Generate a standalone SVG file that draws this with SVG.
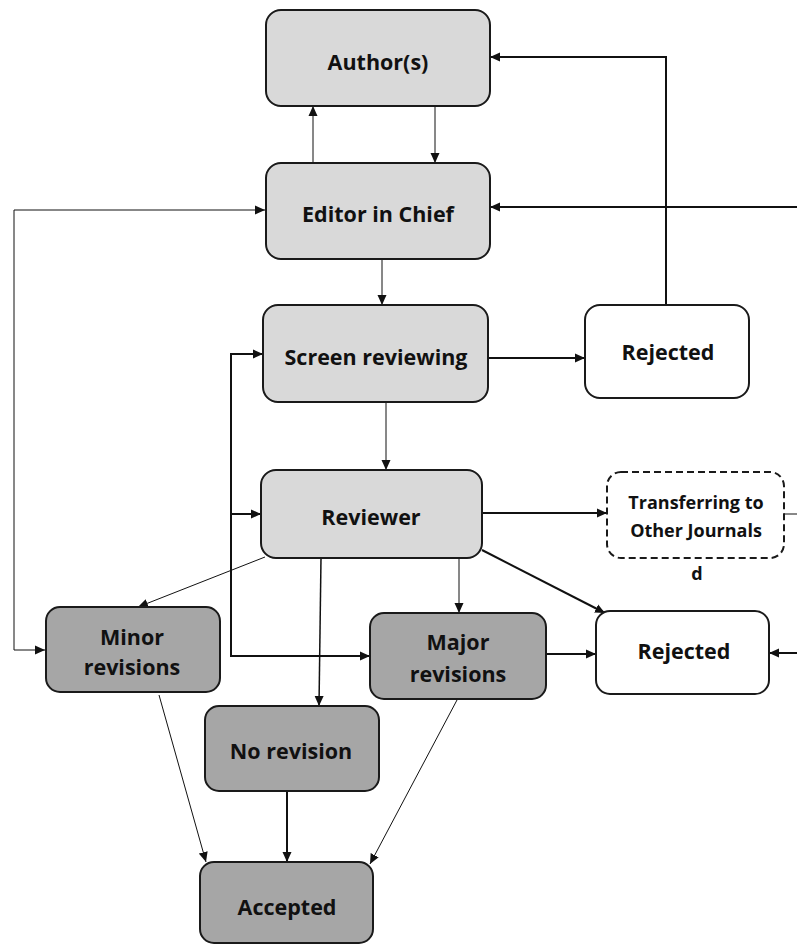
<svg xmlns="http://www.w3.org/2000/svg" width="797" height="945" viewBox="0 0 797 945">
<style>
.box{stroke:#1a1a1a;stroke-width:2}
.lt{fill:#d9d9d9}
.dk{fill:#a6a6a6}
.wh{fill:#ffffff}
.dash{fill:#ffffff;stroke:#1a1a1a;stroke-width:2;stroke-dasharray:7,4}
text{font-family:"Open Sans","Liberation Sans",sans-serif;font-weight:bold;fill:#111;text-anchor:middle}
.t{font-size:21.5px}
.s{font-size:18px}
.c{fill:none;stroke:#111}
.thin{stroke-width:1}
.mid{stroke-width:1.5}
.thick{stroke-width:2}
</style>
<defs>
<marker id="ah" viewBox="0 0 10 10" refX="10" refY="5" markerWidth="10" markerHeight="10" markerUnits="userSpaceOnUse" orient="auto-start-reverse">
<path d="M0,0.5 L10,5 L0,9.5 z" fill="#111"/>
</marker>
</defs>
<g id="connectors">
<path class="c thin" d="M435,106 L435,163" marker-end="url(#ah)"/>
<path class="c thin" d="M313,163 L313,106" marker-end="url(#ah)"/>
<path class="c thick" d="M666,305 L666,57 L490,57" marker-end="url(#ah)"/>
<path class="c thick" d="M797,207 L490,207" marker-end="url(#ah)"/>
<path class="c thin" d="M265,210 L14,210 L14,650 L45,650" marker-start="url(#ah)" marker-end="url(#ah)"/>
<path class="c thin" d="M382,259 L382,305" marker-end="url(#ah)"/>
<path class="c thick" d="M488,358 L585,358" marker-end="url(#ah)"/>
<path class="c thin" d="M386,402 L386,470" marker-end="url(#ah)"/>
<path class="c thick" d="M263,354 L231,354 L231,656 L370,656" marker-start="url(#ah)" marker-end="url(#ah)"/>
<path class="c thick" d="M231,514 L261,514" marker-end="url(#ah)"/>
<path class="c thick" d="M483,513 L607,513" marker-end="url(#ah)"/>
<path class="c thin" d="M784,514 L797,514"/>
<path class="c thin" d="M265,557 L138,607" marker-end="url(#ah)"/>
<path class="c mid" d="M321,558 L319,706" marker-end="url(#ah)"/>
<path class="c thin" d="M459,558 L459,613" marker-end="url(#ah)"/>
<path class="c thick" d="M482,550 L605,613" marker-end="url(#ah)"/>
<path class="c thick" d="M546,654 L596,654" marker-end="url(#ah)"/>
<path class="c thick" d="M797,653 L769,653" marker-end="url(#ah)"/>
<path class="c thin" d="M159,695 L206,862" marker-end="url(#ah)"/>
<path class="c thick" d="M287,791 L287,862" marker-end="url(#ah)"/>
<path class="c thin" d="M457,700 L370,864" marker-end="url(#ah)"/>
</g>
<g id="author">
<rect class="box lt" x="266" y="10" width="224" height="96" rx="15"/>
<text class="t" x="378" y="70">Author(s)</text>
</g>
<g id="editor">
<rect class="box lt" x="266" y="163" width="224" height="96" rx="15"/>
<text class="t" x="378" y="222">Editor in Chief</text>
</g>
<g id="screen">
<rect class="box lt" x="263" y="305" width="225" height="97" rx="15"/>
<text class="t" x="376" y="365">Screen reviewing</text>
</g>
<g id="rejected1">
<rect class="box wh" x="585" y="305" width="164" height="93" rx="15"/>
<text class="t" x="668" y="360">Rejected</text>
</g>
<g id="reviewer">
<rect class="box lt" x="261" y="470" width="221" height="88" rx="15"/>
<text class="t" x="371" y="525">Reviewer</text>
</g>
<g id="transfer">
<rect class="dash" x="607" y="472" width="177" height="86" rx="14"/>
<text class="s" x="696" y="509">Transferring to</text>
<text class="s" x="696" y="537">Other Journals</text>
<text class="s" x="697" y="580">d</text>
</g>
<g id="minor">
<rect class="box dk" x="46" y="607" width="174" height="85" rx="14"/>
<text class="t" x="132" y="645">Minor</text>
<text class="t" x="132" y="675">revisions</text>
</g>
<g id="major">
<rect class="box dk" x="370" y="613" width="176" height="86" rx="14"/>
<text class="t" x="458" y="650">Major</text>
<text class="t" x="458" y="682">revisions</text>
</g>
<g id="rejected2">
<rect class="box wh" x="596" y="611" width="173" height="83" rx="14"/>
<text class="t" x="684" y="659">Rejected</text>
</g>
<g id="norevision">
<rect class="box dk" x="205" y="706" width="174" height="85" rx="14"/>
<text class="t" x="291" y="759">No revision</text>
</g>
<g id="accepted">
<rect class="box dk" x="200" y="862" width="173" height="81" rx="14"/>
<text class="t" x="287" y="915">Accepted</text>
</g>
</svg>
